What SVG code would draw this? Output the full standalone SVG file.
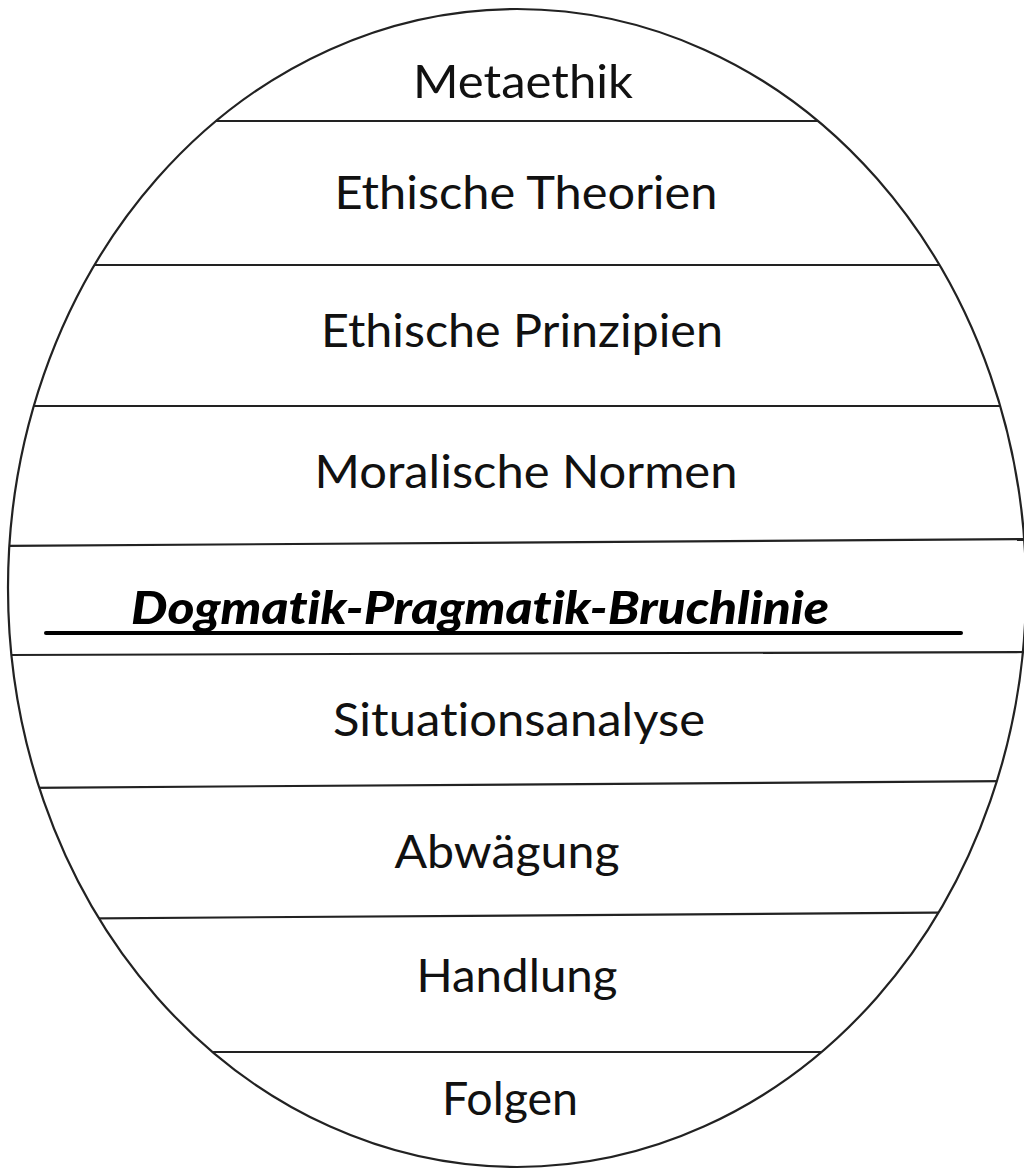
<svg xmlns="http://www.w3.org/2000/svg" width="1024" height="1169" viewBox="0 0 1024 1169">
<style>
.lbl{font-family:Lato,"Open Sans","Liberation Sans",sans-serif;font-size:47px;fill:#111;text-anchor:middle;font-variant-ligatures:none;font-feature-settings:"liga" 0}
.brk{font-family:Lato,"Open Sans","Liberation Sans",sans-serif;font-size:46px;font-weight:900;font-style:italic;fill:#000;font-variant-ligatures:none;font-feature-settings:"liga" 0}
.sep{stroke:#222;stroke-width:2.2;fill:none}
</style>
<defs>
<clipPath id="oval"><ellipse cx="517" cy="588" rx="509" ry="579"/></clipPath>
</defs>
<rect width="1024" height="1169" fill="#fff"/>
<g id="outline">
<ellipse cx="517" cy="588" rx="509" ry="579" fill="none" stroke="#222" stroke-width="2.2"/>
</g>
<g id="connectors" clip-path="url(#oval)">
<line class="sep" x1="0" y1="121" x2="1024" y2="121"/>
<line class="sep" x1="0" y1="265" x2="1024" y2="265"/>
<line class="sep" x1="0" y1="406" x2="1024" y2="406"/>
<line class="sep" x1="0" y1="546" x2="1030" y2="539"/>
<line class="sep" x1="0" y1="655" x2="1030" y2="652"/>
<line class="sep" x1="0" y1="788" x2="1030" y2="781"/>
<line class="sep" x1="0" y1="919" x2="1030" y2="912"/>
<line class="sep" x1="0" y1="1052" x2="1024" y2="1052"/>
</g>
<g id="n1"><text class="lbl" x="523" y="98" textLength="220" lengthAdjust="spacingAndGlyphs">Metaethik</text></g>
<g id="n2"><text class="lbl" x="526" y="209" textLength="383" lengthAdjust="spacingAndGlyphs">Ethische Theorien</text></g>
<g id="n3"><text class="lbl" x="522" y="347" textLength="402" lengthAdjust="spacingAndGlyphs">Ethische Prinzipien</text></g>
<g id="n4"><text class="lbl" x="526" y="488" textLength="423" lengthAdjust="spacingAndGlyphs">Moralische Normen</text></g>
<g id="n5">
<text class="brk" x="131" y="624" textLength="698" lengthAdjust="spacingAndGlyphs">Dogmatik-Pragmatik-Bruchlinie</text>
<line x1="46" y1="633" x2="961" y2="633" stroke="#000" stroke-width="4" stroke-linecap="round"/>
</g>
<g id="n6"><text class="lbl" x="519" y="736" textLength="372" lengthAdjust="spacingAndGlyphs">Situationsanalyse</text></g>
<g id="n7"><text class="lbl" x="507" y="868" textLength="225" lengthAdjust="spacingAndGlyphs">Abwägung</text></g>
<g id="n8"><text class="lbl" x="517" y="992" textLength="201" lengthAdjust="spacingAndGlyphs">Handlung</text></g>
<g id="n9"><text class="lbl" x="510" y="1115" textLength="136" lengthAdjust="spacingAndGlyphs">Folgen</text></g>
</svg>
